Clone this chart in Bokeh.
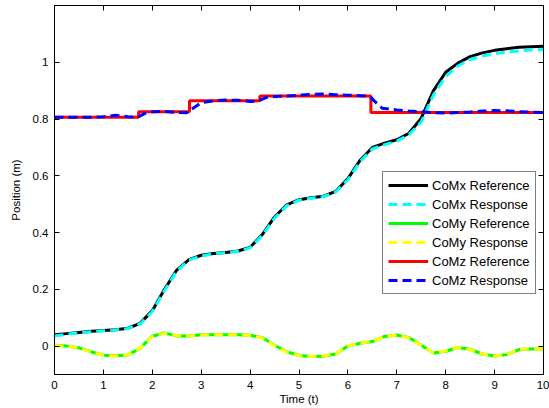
from bokeh.plotting import figure
from bokeh.models import Range1d, LinearAxis, FixedTicker, Legend, LegendItem
from bokeh.embed import file_html
from bokeh.resources import INLINE

# ---------------- data ----------------
t = [0.0, 0.25, 0.5, 0.75, 1.0, 1.25, 1.5, 1.75, 2.0, 2.25, 2.5, 2.75, 3.0, 3.25,
     3.5, 3.75, 4.0, 4.25, 4.5, 4.75, 5.0, 5.25, 5.5, 5.75, 6.0, 6.25, 6.5, 6.75,
     7.0, 7.25, 7.5, 7.75, 8.0, 8.25, 8.5, 8.75, 9.0, 9.25, 9.5, 9.75, 10.0]

comx_ref = [0.040, 0.044, 0.048, 0.052, 0.055, 0.058, 0.063, 0.080, 0.125, 0.200,
            0.268, 0.305, 0.320, 0.326, 0.330, 0.335, 0.348, 0.393, 0.455, 0.498,
            0.516, 0.523, 0.528, 0.545, 0.590, 0.655, 0.700, 0.715, 0.727, 0.750,
            0.803, 0.900, 0.965, 0.997, 1.020, 1.033, 1.042, 1.048, 1.053, 1.055,
            1.056]
comx_resp = [0.036, 0.042, 0.047, 0.051, 0.054, 0.057, 0.062, 0.078, 0.122, 0.196,
             0.265, 0.303, 0.318, 0.325, 0.329, 0.334, 0.346, 0.390, 0.451, 0.495,
             0.514, 0.521, 0.527, 0.543, 0.586, 0.650, 0.695, 0.710, 0.722, 0.745,
             0.790, 0.885, 0.950, 0.987, 1.010, 1.022, 1.030, 1.036, 1.040, 1.043,
             1.045]

comy_ref = [0.003, 0.000, -0.006, -0.020, -0.032, -0.034, -0.031, -0.008, 0.035,
            0.046, 0.036, 0.036, 0.040, 0.040, 0.040, 0.040, 0.038, 0.030, 0.003,
            -0.020, -0.033, -0.037, -0.036, -0.028, 0.000, 0.010, 0.016, 0.034,
            0.039, 0.030, 0.003, -0.024, -0.018, -0.005, -0.011, -0.028, -0.035,
            -0.030, -0.012, -0.010, -0.010]
comy_resp = [0.002, 0.000, -0.007, -0.021, -0.033, -0.035, -0.031, -0.007, 0.034,
             0.045, 0.037, 0.036, 0.039, 0.040, 0.040, 0.040, 0.037, 0.029, 0.002,
             -0.021, -0.034, -0.037, -0.035, -0.027, 0.001, 0.010, 0.017, 0.033,
             0.039, 0.029, 0.002, -0.024, -0.017, -0.005, -0.012, -0.028, -0.035,
             -0.029, -0.011, -0.010, -0.010]

comz_ref_t = [0.0, 1.72, 2.76, 4.20, 6.47, 10.0]
comz_ref = [0.806, 0.826, 0.864, 0.881, 0.823, 0.822]

comz_resp_t = [0.0, 0.25, 0.5, 0.75, 1.0, 1.25, 1.5, 1.7, 1.85, 2.0, 2.25, 2.5, 2.7,
               2.85, 3.0, 3.25, 3.5, 3.75, 4.0, 4.15, 4.35, 4.6, 5.0, 5.25, 5.5,
               5.75, 6.0, 6.25, 6.45, 6.55, 6.7, 7.0, 7.25, 7.5, 7.75, 8.0, 8.25,
               8.5, 8.75, 9.0, 9.25, 9.5, 9.75, 10.0]
comz_resp = [0.806, 0.806, 0.806, 0.806, 0.808, 0.813, 0.808, 0.806, 0.820, 0.826,
             0.827, 0.823, 0.822, 0.840, 0.858, 0.864, 0.867, 0.866, 0.862, 0.863,
             0.877, 0.880, 0.884, 0.887, 0.888, 0.886, 0.884, 0.882, 0.880, 0.862,
             0.838, 0.832, 0.828, 0.826, 0.822, 0.821, 0.823, 0.825, 0.828, 0.830,
             0.829, 0.826, 0.824, 0.823]

x_ticks = [0, 1, 2, 3, 4, 5, 6, 7, 8, 9, 10]
x_tick_labels = ["0", "1", "2", "3", "4", "5", "6", "7", "8", "9", "10"]
y_ticks = [0, 0.2, 0.4, 0.6, 0.8, 1]
y_tick_labels = ["0", "0.2", "0.4", "0.6", "0.8", "1"]

labels = ["CoMx Reference", "CoMx Response", "CoMy Reference", "CoMy Response",
          "CoMz Reference", "CoMz Response"]
colors = ["#000000", "#00ffff", "#00ff00", "#ffff00", "#ff0000", "#0000ff"]

FONT = "Liberation Sans"

# ---------------- figure ----------------
p = figure(width=549, height=408, output_backend="svg", toolbar_location=None,
           x_range=Range1d(0, 10), y_range=Range1d(-0.1, 1.2),
           min_border_left=54, min_border_right=6, min_border_top=5,
           min_border_bottom=34, background_fill_color="white",
           border_fill_color="white", outline_line_color="black",
           outline_line_width=1)

p.xgrid.grid_line_color = None
p.ygrid.grid_line_color = None

for ax in (p.xaxis, p.yaxis):
    ax.major_tick_in = 5
    ax.major_tick_out = 0
    ax.minor_tick_line_color = None
    ax.axis_line_color = "black"
    ax.major_tick_line_color = "black"
    ax.major_label_text_font = FONT
    ax.major_label_text_font_size = "11.5px"
    ax.major_label_text_color = "black"
    ax.axis_label_text_font = FONT
    ax.axis_label_text_font_size = "11.5px"
    ax.axis_label_text_font_style = "normal"
    ax.axis_label_text_color = "black"

p.xaxis.ticker = FixedTicker(ticks=x_ticks)
p.xaxis.major_label_overrides = dict(zip(x_ticks, x_tick_labels))
p.xaxis.major_label_standoff = 6
p.xaxis.axis_label = "Time (t)"
p.xaxis.axis_label_standoff = 1

p.yaxis.ticker = FixedTicker(ticks=y_ticks)
p.yaxis.major_label_overrides = dict(zip(y_ticks, y_tick_labels))
p.yaxis.major_label_standoff = 6
p.yaxis.axis_label = "Position (m)"
p.yaxis.axis_label_standoff = 8

for loc, ticks in (("above", x_ticks), ("right", y_ticks)):
    ax = LinearAxis(ticker=FixedTicker(ticks=ticks), major_tick_in=5,
                    major_tick_out=0, minor_tick_line_color=None,
                    major_label_text_font_size="0px",
                    major_label_text_color=None, major_label_standoff=0,
                    axis_line_color="black")
    p.add_layout(ax, loc)

# ---------------- lines ----------------
DASH = "9 5"
r1 = p.line(t, comx_ref, line_color=colors[0], line_width=3)
r2 = p.line(t, comx_resp, line_color=colors[1], line_width=3, line_dash=DASH)
r3 = p.line(t, comy_ref, line_color=colors[2], line_width=3)
r4 = p.line(t, comy_resp, line_color=colors[3], line_width=3, line_dash=DASH)
r5 = p.step(comz_ref_t, comz_ref, mode="after", line_color=colors[4], line_width=3)
r6 = p.line(comz_resp_t, comz_resp, line_color=colors[5], line_width=3,
            line_dash=DASH)

legend = Legend(items=[LegendItem(label=lab, renderers=[r])
                       for lab, r in zip(labels, [r1, r2, r3, r4, r5, r6])],
                location=(328, 80), orientation="vertical",
                border_line_color="black", border_line_width=1,
                background_fill_color="white", background_fill_alpha=1.0,
                label_text_font=FONT, label_text_font_size="13px",
                label_text_color="black", glyph_width=40, glyph_height=16,
                label_height=16, label_standoff=4, spacing=3, padding=5,
                margin=0)
p.add_layout(legend)

open("out.html", "w").write(file_html(p, INLINE))
